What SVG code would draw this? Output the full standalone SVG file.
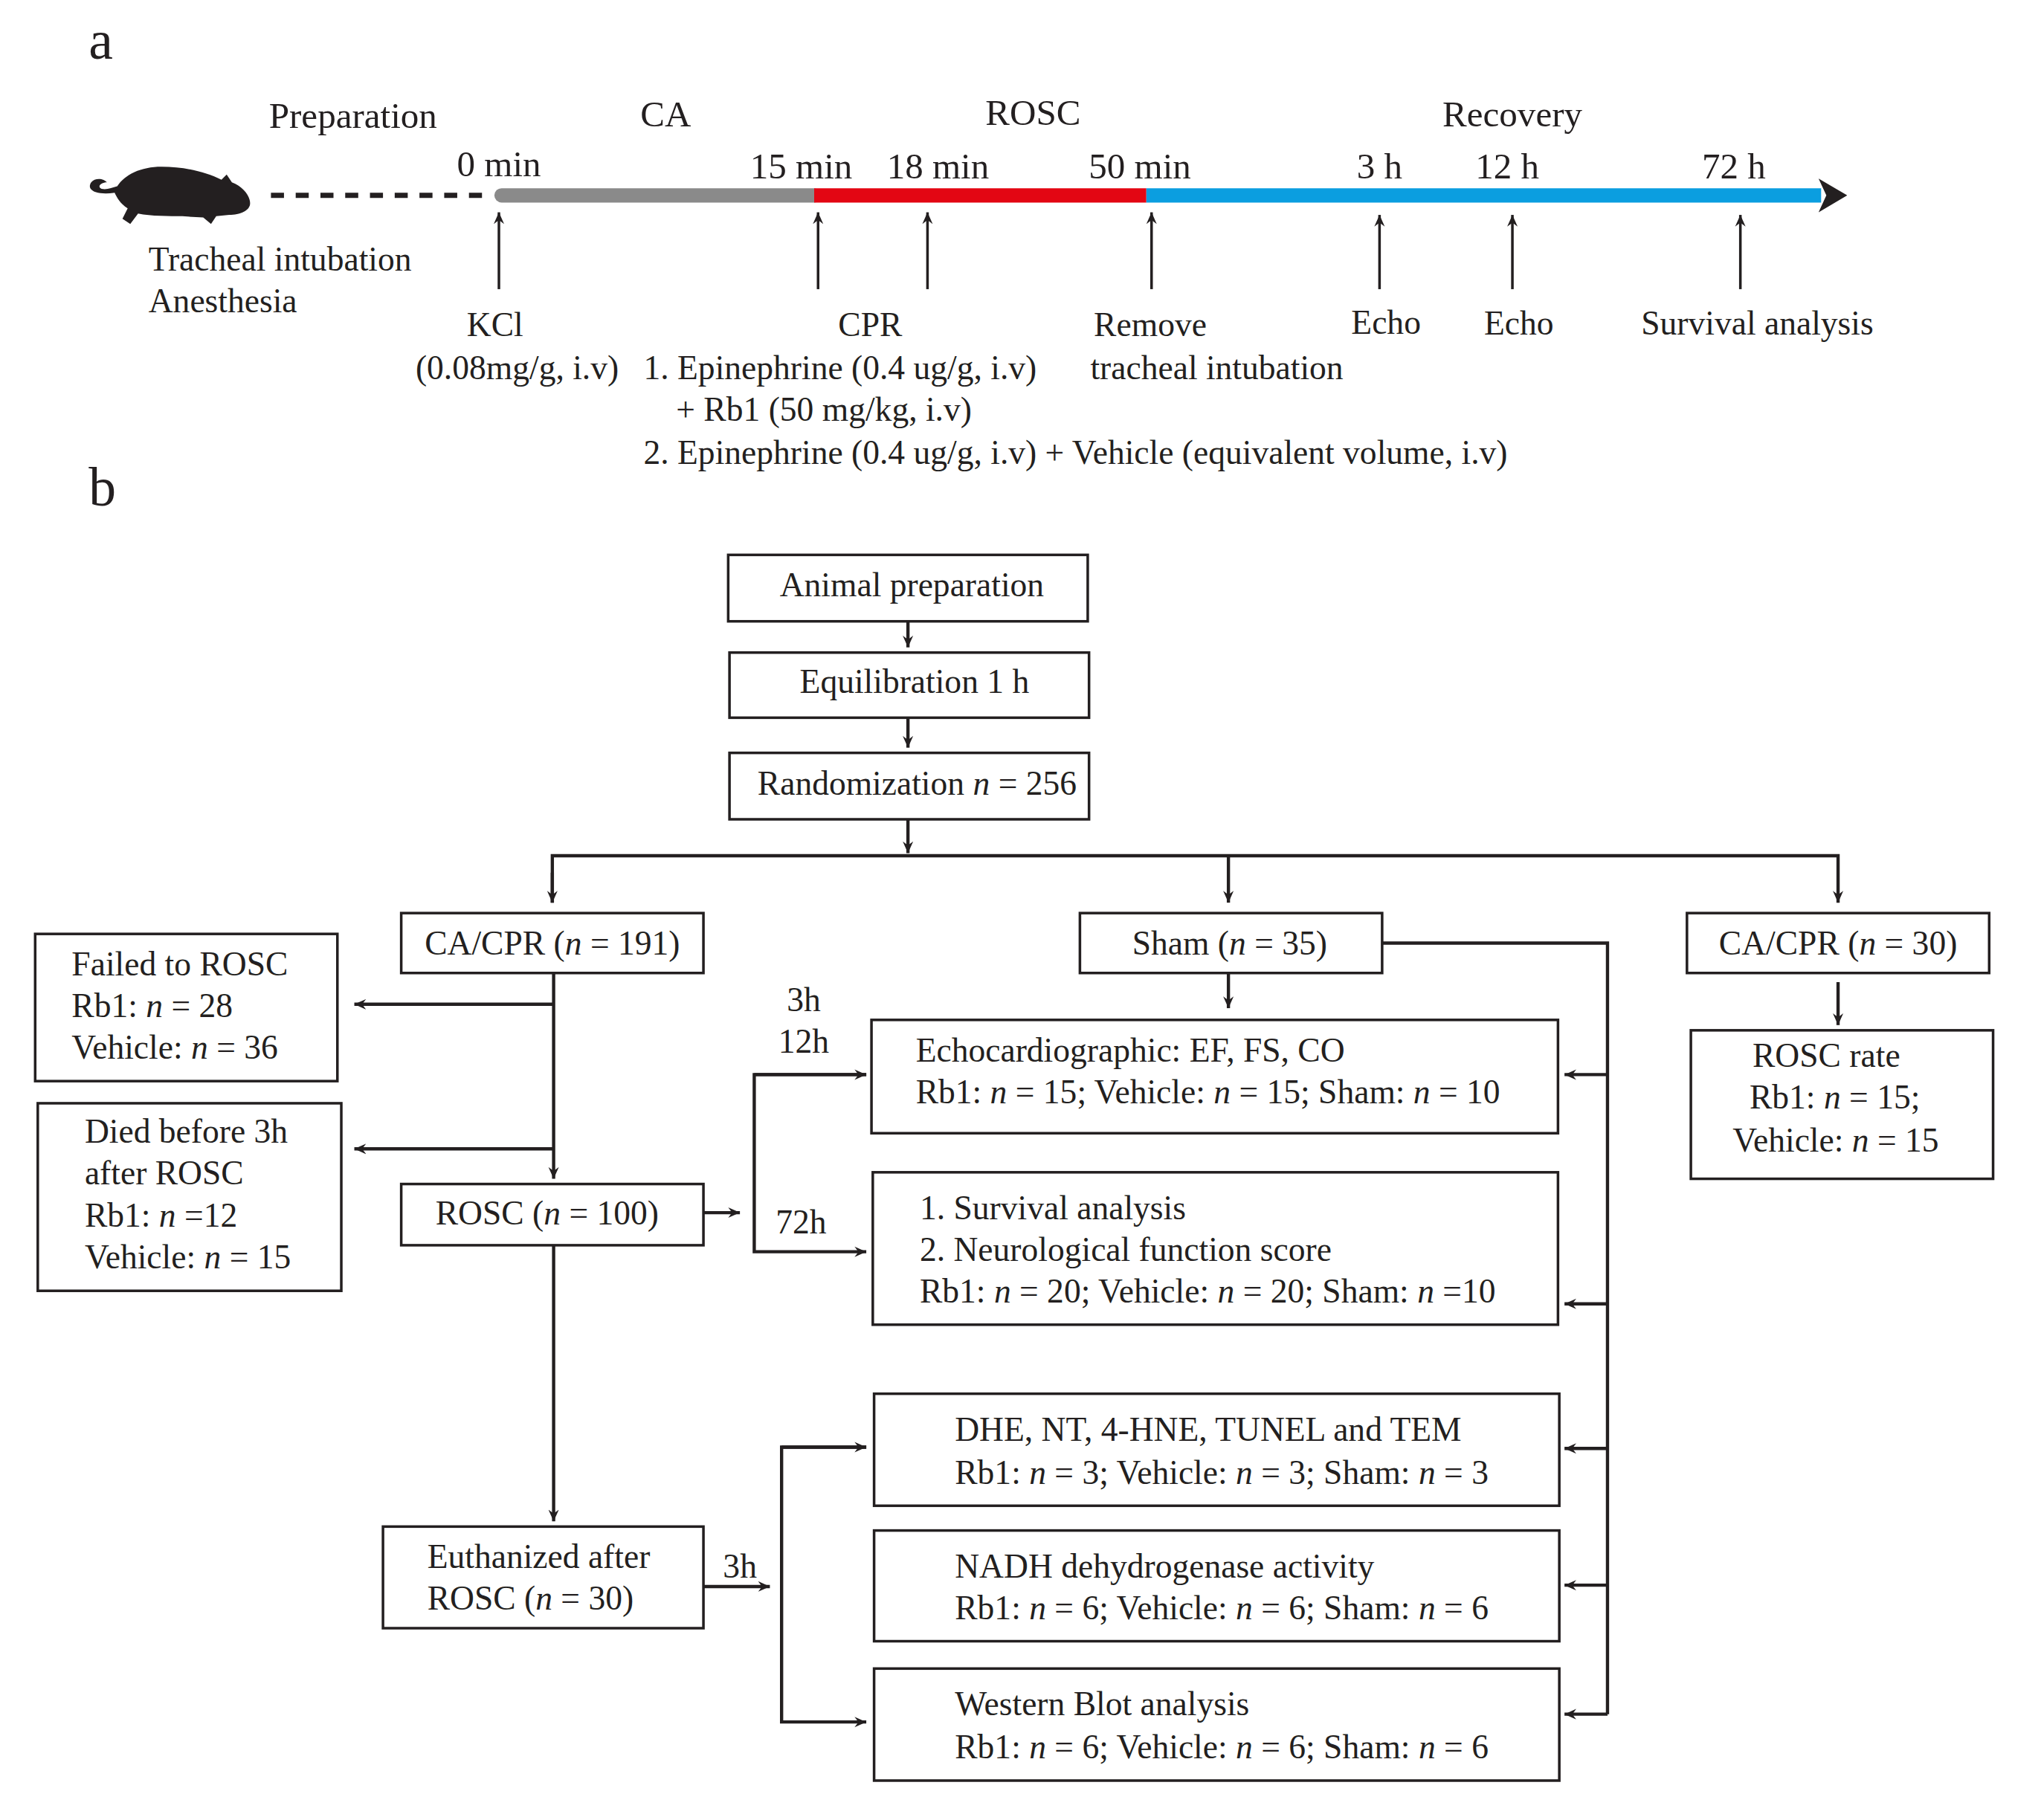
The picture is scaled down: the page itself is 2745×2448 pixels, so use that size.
<svg xmlns="http://www.w3.org/2000/svg" width="2745" height="2448" viewBox="0 0 2745 2448">
<style>
text{font-family:"Liberation Serif","Times New Roman",serif;font-size:26px;fill:#231f20}
.c{text-anchor:middle}
.ph{font-size:28px}
.box{fill:#fff;stroke:#231f20;stroke-width:2}
.ln{fill:none;stroke:#231f20;stroke-width:2.5}
.it{font-style:italic}
</style>
<defs>
<marker id="ah" markerWidth="10" markerHeight="10" refX="9" refY="5" orient="auto" markerUnits="userSpaceOnUse"><path d="M0,1 L9,5 L0,9 L3,5 Z" fill="#231f20"/></marker>
<marker id="big" markerWidth="22" markerHeight="30" refX="2" refY="15" orient="auto" markerUnits="userSpaceOnUse"><path d="M0,2 L22,15 L0,28 L6,15 Z" fill="#231f20"/></marker>
</defs>
<rect width="2745" height="2448" fill="#fff"/>
<g transform="scale(1.752)">
<text x="68" y="45" style="font-size:42px">a</text>
<text x="68" y="388" style="font-size:42px">b</text>
<g id="mouse">
<path d="M88,148 C74,150 66,146 70,140 C73,136 80,137 82,140 C78,140 74,143 78,145 C82,146 86,144 90,143 C96,134 108,128 124,128 C142,128 158,132 170,138 L174,134 L178,140 C186,143 192,150 192,156 C192,162 184,165 176,165 L166,166 L162,172 L156,167 L140,166 C130,166 116,166 106,164 L100,172 L94,168 L98,160 C92,156 90,152 88,148 Z" fill="#231f20"/>
</g>
<g id="timeline">
<line x1="208" y1="150" x2="375" y2="150" stroke="#231f20" stroke-width="4" stroke-dasharray="10,9"/>
<line x1="385" y1="150" x2="625" y2="150" stroke="#8a8a8a" stroke-width="11" stroke-linecap="round"/>
<line x1="625" y1="150" x2="880" y2="150" stroke="#e30613" stroke-width="11"/>
<line x1="880" y1="150" x2="1398" y2="150" stroke="#0b9ee0" stroke-width="11" marker-end="url(#big)"/>
<text class="c ph" x="271" y="98">Preparation</text>
<text class="c ph" x="511" y="97">CA</text>
<text class="c ph" x="793" y="96">ROSC</text>
<text class="c ph" x="1161" y="97">Recovery</text>
<text class="c ph" x="383" y="135">0 min</text>
<text class="c ph" x="615" y="137">15 min</text>
<text class="c ph" x="720" y="137">18 min</text>
<text class="c ph" x="875" y="137">50 min</text>
<text class="c ph" x="1059" y="137">3 h</text>
<text class="c ph" x="1157" y="137">12 h</text>
<text class="c ph" x="1331" y="137">72 h</text>
<g class="ln" style="stroke-width:2">
<line x1="383" y1="222" x2="383" y2="163" marker-end="url(#ah)"/>
<line x1="628" y1="222" x2="628" y2="163" marker-end="url(#ah)"/>
<line x1="712" y1="222" x2="712" y2="163" marker-end="url(#ah)"/>
<line x1="884" y1="222" x2="884" y2="163" marker-end="url(#ah)"/>
<line x1="1059" y1="222" x2="1059" y2="165" marker-end="url(#ah)"/>
<line x1="1161" y1="222" x2="1161" y2="165" marker-end="url(#ah)"/>
<line x1="1336" y1="222" x2="1336" y2="165" marker-end="url(#ah)"/>
</g>
<text x="114" y="208">Tracheal intubation</text>
<text x="114" y="240">Anesthesia</text>
<text class="c" x="380" y="258">KCl</text>
<text class="c" x="397" y="291">(0.08mg/g, i.v)</text>
<text class="c" x="668" y="258">CPR</text>
<text x="494" y="291">1. Epinephrine (0.4 ug/g, i.v)</text>
<text x="519" y="323">+ Rb1 (50 mg/kg, i.v)</text>
<text x="494" y="356">2. Epinephrine (0.4 ug/g, i.v) + Vehicle (equivalent volume, i.v)</text>
<text class="c" x="883" y="258">Remove</text>
<text x="837" y="291">tracheal intubation</text>
<text class="c" x="1064" y="256">Echo</text>
<text class="c" x="1166" y="257">Echo</text>
<text class="c" x="1349" y="257">Survival analysis</text>
</g>
<g id="connectors" class="ln">
<line x1="697" y1="477" x2="697" y2="497" marker-end="url(#ah)"/>
<line x1="697" y1="551" x2="697" y2="574" marker-end="url(#ah)"/>
<line x1="697" y1="629" x2="697" y2="655" marker-end="url(#ah)"/>
<polyline points="424,693 424,657 1411,657 1411,693" marker-end="url(#ah)"/>
<line x1="424" y1="670" x2="424" y2="693" marker-end="url(#ah)"/>
<line x1="943" y1="657" x2="943" y2="693" marker-end="url(#ah)"/>
<line x1="425" y1="747" x2="425" y2="905" marker-end="url(#ah)"/>
<line x1="425" y1="771" x2="272" y2="771" marker-end="url(#ah)"/>
<line x1="425" y1="882" x2="272" y2="882" marker-end="url(#ah)"/>
<line x1="540" y1="931" x2="568" y2="931" marker-end="url(#ah)"/>
<polyline points="665,825 579,825 579,961 665,961" marker-end="url(#ah)"/>
<line x1="579" y1="825" x2="665" y2="825" marker-end="url(#ah)"/>
<line x1="943" y1="747" x2="943" y2="774" marker-end="url(#ah)"/>
<polyline points="1061,724 1234,724 1234,1316"/>
<line x1="1234" y1="825" x2="1201" y2="825" marker-end="url(#ah)"/>
<line x1="1234" y1="1001" x2="1201" y2="1001" marker-end="url(#ah)"/>
<line x1="1234" y1="1112" x2="1201" y2="1112" marker-end="url(#ah)"/>
<line x1="1234" y1="1217" x2="1201" y2="1217" marker-end="url(#ah)"/>
<line x1="1234" y1="1316" x2="1201" y2="1316" marker-end="url(#ah)"/>
<line x1="1411" y1="754" x2="1411" y2="787" marker-end="url(#ah)"/>
<line x1="425" y1="956" x2="425" y2="1168" marker-end="url(#ah)"/>
<line x1="540" y1="1218" x2="591" y2="1218" marker-end="url(#ah)"/>
<polyline points="665,1111 600,1111 600,1322 665,1322" marker-end="url(#ah)"/>
<line x1="600" y1="1111" x2="665" y2="1111" marker-end="url(#ah)"/>
</g>
<text class="c" x="617" y="776">3h</text>
<text class="c" x="617" y="808">12h</text>
<text class="c" x="615" y="947">72h</text>
<text class="c" x="568" y="1211">3h</text>
<g id="n-animal"><rect class="box" x="559" y="426" width="276" height="51"/><text class="c" x="700" y="458">Animal preparation</text></g>
<g id="n-equil"><rect class="box" x="560" y="501" width="276" height="50"/><text class="c" x="702" y="532">Equilibration 1 h</text></g>
<g id="n-random"><rect class="box" x="560" y="578" width="276" height="51"/><text class="c" x="704" y="610">Randomization <tspan class="it">n</tspan> = 256</text></g>
<g id="n-cacpr191"><rect class="box" x="308" y="701" width="232" height="46"/><text class="c" x="424" y="733">CA/CPR (<tspan class="it">n</tspan> = 191)</text></g>
<g id="n-sham"><rect class="box" x="829" y="701" width="232" height="46"/><text class="c" x="944" y="733">Sham (<tspan class="it">n</tspan> = 35)</text></g>
<g id="n-cacpr30"><rect class="box" x="1295" y="701" width="232" height="46"/><text class="c" x="1411" y="733">CA/CPR (<tspan class="it">n</tspan> = 30)</text></g>
<g id="n-failed"><rect class="box" x="27" y="717" width="232" height="113"/>
<text x="55" y="749">Failed to ROSC</text><text x="55" y="781">Rb1: <tspan class="it">n</tspan> = 28</text><text x="55" y="813">Vehicle: <tspan class="it">n</tspan> = 36</text></g>
<g id="n-died"><rect class="box" x="29" y="847" width="233" height="144"/>
<text x="65" y="877">Died before 3h</text><text x="65" y="909">after ROSC</text><text x="65" y="942">Rb1: <tspan class="it">n</tspan> =12</text><text x="65" y="974">Vehicle: <tspan class="it">n</tspan> = 15</text></g>
<g id="n-rosc"><rect class="box" x="308" y="909" width="232" height="47"/><text class="c" x="420" y="940">ROSC (<tspan class="it">n</tspan> = 100)</text></g>
<g id="n-echo"><rect class="box" x="669" y="783" width="527" height="87"/>
<text x="703" y="815">Echocardiographic: EF,  FS, CO</text><text x="703" y="847">Rb1: <tspan class="it">n</tspan> = 15; Vehicle: <tspan class="it">n</tspan> = 15; Sham: <tspan class="it">n</tspan> = 10</text></g>
<g id="n-surv"><rect class="box" x="670" y="900" width="526" height="117"/>
<text x="706" y="936">1. Survival analysis</text><text x="706" y="968">2. Neurological function score</text><text x="706" y="1000">Rb1: <tspan class="it">n</tspan> = 20; Vehicle: <tspan class="it">n</tspan> = 20; Sham: <tspan class="it">n</tspan> =10</text></g>
<g id="n-roscrate"><rect class="box" x="1298" y="791" width="232" height="114"/>
<text class="c" x="1402" y="819">ROSC rate</text><text x="1343" y="851">Rb1: <tspan class="it">n</tspan> = 15;</text><text x="1330" y="884">Vehicle: <tspan class="it">n</tspan> = 15</text></g>
<g id="n-euth"><rect class="box" x="294" y="1172" width="246" height="78"/>
<text x="328" y="1204">Euthanized after</text><text x="328" y="1236">ROSC (<tspan class="it">n</tspan> = 30)</text></g>
<g id="n-dhe"><rect class="box" x="671" y="1070" width="526" height="86"/>
<text x="733" y="1106">DHE, NT, 4-HNE, TUNEL and  TEM</text><text x="733" y="1139">Rb1: <tspan class="it">n</tspan> = 3; Vehicle: <tspan class="it">n</tspan> = 3; Sham: <tspan class="it">n</tspan> = 3</text></g>
<g id="n-nadh"><rect class="box" x="671" y="1175" width="526" height="85"/>
<text x="733" y="1211">NADH dehydrogenase activity</text><text x="733" y="1243">Rb1: <tspan class="it">n</tspan> = 6; Vehicle: <tspan class="it">n</tspan> = 6; Sham: <tspan class="it">n</tspan> = 6</text></g>
<g id="n-wb"><rect class="box" x="671" y="1281" width="526" height="86"/>
<text x="733" y="1317">Western Blot analysis</text><text x="733" y="1350">Rb1: <tspan class="it">n</tspan> = 6; Vehicle: <tspan class="it">n</tspan> = 6; Sham: <tspan class="it">n</tspan> = 6</text></g>
</g>
</svg>
